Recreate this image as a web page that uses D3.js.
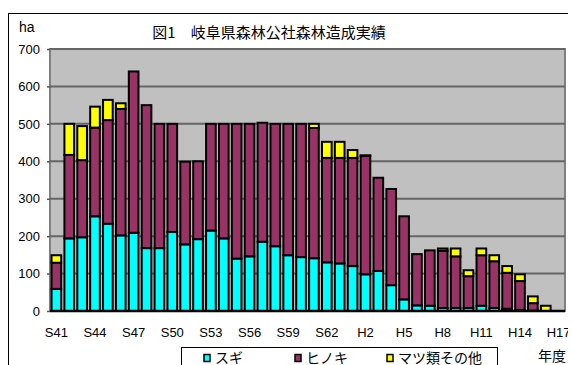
<!DOCTYPE html>
<html lang="ja">
<head>
  <meta charset="UTF-8">
  <title>図1 岐阜県森林公社森林造成実績</title>
  <script src="https://d3js.org/d3.v7.min.js"></script>
  <style>
    body { margin: 0; background: #fff; }
    text { font-family: "Liberation Sans", Arial, sans-serif; }
    .jp { font-family: "Noto Sans CJK JP", sans-serif; }
  </style>
</head>
<body>
<script>
  // fiscal years S41 .. H17
  const years = ["S41","S42","S43","S44","S45","S46","S47","S48","S49","S50",
    "S51","S52","S53","S54","S55","S56","S57","S58","S59","S60","S61","S62","S63",
    "H1","H2","H3","H4","H5","H6","H7","H8","H9","H10","H11","H12","H13","H14","H15","H16","H17"];
  const tickYears = ["S41","S44","S47","S50","S53","S56","S59","S62","H2","H5","H8","H11","H14","H17"];
  const seriesNames = ["スギ", "ヒノキ", "マツ類その他"];
  const seriesColors = ["#00ffff", "#993366", "#ffff00"];

  // ha
  const sugi = [59,194,197,253,233,202,209,168,168,211,178,192,215,194,140,146,185,173,149,144,141,130,127,
    120,98,107,69,31,15,14,8,8,8,14,8,6,3,1,0,0];
  const hinoki = [70,223,206,237,277,338,431,382,332,289,221,208,285,306,360,354,318,327,351,356,348,279,282,
    289,316,249,257,222,137,148,153,138,85,135,125,96,77,20,0,0];
  const matsu = [20,83,91,56,54,15,0,0,0,0,0,0,0,0,0,0,0,0,0,0,11,43,43,
    21,2,0,0,0,0,0,6,21,16,18,16,18,18,18,14,0];

  const W = 572, H = 365;
  const plot = {left: 50, top: 49, right: 565, bottom: 311};

  const svg = d3.select("body").append("svg")
    .attr("width", W).attr("height", H);

  // clip for everything inside the outer chart frame
  svg.append("clipPath").attr("id", "frame")
    .append("rect").attr("x", 8).attr("y", 13).attr("width", 560).attr("height", 360);
  const chart = svg.append("g").attr("clip-path", "url(#frame)");

  chart.append("rect")
    .attr("x", 8.5).attr("y", 13.5).attr("width", 560).attr("height", 370)
    .attr("fill", "#fff").attr("stroke", "#000").attr("stroke-width", 1);

  const table = years.map((y, i) => ({year: y, s0: sugi[i], s1: hinoki[i], s2: matsu[i]}));
  const stacked = d3.stack().keys(["s0", "s1", "s2"])(table);

  const x = d3.scaleBand()
    .domain(years)
    .range([plot.left, plot.right])
    .paddingInner(0.25)
    .paddingOuter(0.12);

  const y = d3.scaleLinear()
    .domain([0, 700])
    .range([plot.bottom, plot.top]);

  // plot background
  chart.append("rect")
    .attr("x", plot.left).attr("y", plot.top)
    .attr("width", plot.right - plot.left).attr("height", plot.bottom - plot.top)
    .attr("fill", "#c0c0c0").attr("stroke", "#808080").attr("stroke-width", 2);

  // y axis with gridlines
  const yAxis = chart.append("g")
    .attr("transform", `translate(${plot.left},0)`)
    .call(d3.axisLeft(y).tickValues(d3.range(0, 701, 100)).tickSize(3).tickPadding(7));
  yAxis.select(".domain").remove();
  yAxis.selectAll("line").attr("stroke", "#555").attr("stroke-width", 1.5);
  yAxis.selectAll("text").attr("font-size", 13).attr("fill", "#000")
    .style("font-family", "Liberation Sans, Arial, sans-serif");

  chart.append("g")
    .selectAll("line")
    .data(d3.range(100, 701, 100))
    .join("line")
    .attr("x1", plot.left).attr("x2", plot.right)
    .attr("y1", d => y(d)).attr("y2", d => y(d))
    .attr("stroke", "#666").attr("stroke-width", 2);

  // bars
  chart.append("g")
    .selectAll("g")
    .data(stacked)
    .join("g")
    .attr("fill", (d, i) => seriesColors[i])
    .selectAll("rect")
    .data(d => d.filter(p => p[1] - p[0] > 0))
    .join("rect")
    .attr("x", d => x(d.data.year))
    .attr("y", d => y(d[1]))
    .attr("width", x.bandwidth())
    .attr("height", d => y(d[0]) - y(d[1]))
    .attr("stroke", "#000")
    .attr("stroke-width", 2);

  // x axis
  const xAxis = chart.append("g")
    .attr("transform", `translate(0,${plot.bottom})`)
    .call(d3.axisBottom(x).tickValues(tickYears).tickSize(0).tickPadding(17));
  xAxis.select(".domain").attr("stroke", "#000").attr("stroke-width", 2.5)
    .attr("d", `M${plot.left},0H${plot.right}`);
  xAxis.selectAll("text").attr("font-size", 13).attr("fill", "#000")
    .style("font-family", "Liberation Sans, Arial, sans-serif");

  // title and unit labels
  chart.append("text")
    .attr("class", "jp")
    .attr("x", 269).attr("y", 38)
    .attr("text-anchor", "middle")
    .attr("font-size", 15)
    .text("図1　岐阜県森林公社森林造成実績");

  chart.append("text")
    .attr("x", 19).attr("y", 32)
    .attr("font-size", 14)
    .text("ha");

  chart.append("text")
    .attr("class", "jp")
    .attr("x", 538).attr("y", 361)
    .attr("font-size", 14)
    .text("年度");

  // legend
  const legend = chart.append("g");
  legend.append("rect")
    .attr("x", 181.5).attr("y", 347.5).attr("width", 316).attr("height", 30)
    .attr("fill", "#fff").attr("stroke", "#000");
  const legendX = [204, 295, 387];
  const items = legend.selectAll("g.item")
    .data(seriesNames)
    .join("g")
    .attr("class", "item")
    .attr("transform", (d, i) => `translate(${legendX[i]},358)`);
  items.append("rect")
    .attr("x", 0).attr("y", -3.5).attr("width", 6).attr("height", 7)
    .attr("fill", (d, i) => seriesColors[i])
    .attr("stroke", "#000").attr("stroke-width", 1.5);
  items.append("text")
    .attr("class", "jp")
    .attr("x", 11).attr("y", 4.5)
    .attr("font-size", 14)
    .text(d => d);
</script>
</body>
</html>
